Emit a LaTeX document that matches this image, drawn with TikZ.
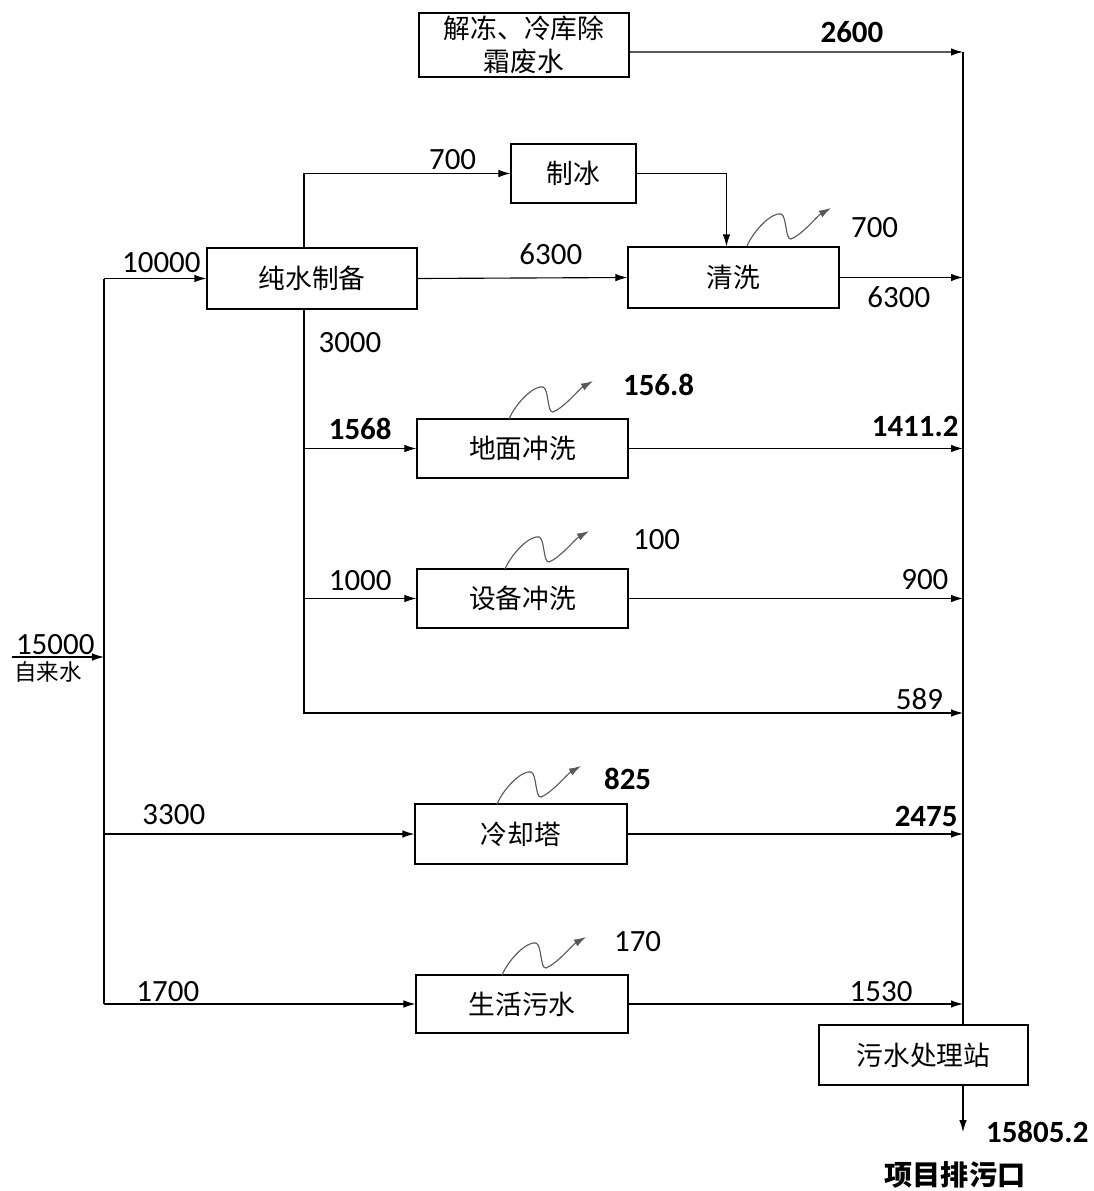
\documentclass[tikz,border=0pt]{standalone}
\usepackage{fontspec}
\setmainfont{Carlito}
\newfontfamily\cjk{Noto Sans CJK SC}
\usetikzlibrary{arrows.meta}

\begin{document}
\begin{tikzpicture}[
    x=0.025cm, y=-0.025cm,
    box/.style={draw, line width=0.8pt, font=\cjk\fontsize{19}{23.5}\selectfont,
                align=center, inner sep=0pt},
    flow/.style={-{Latex[length=3mm, width=1.9mm]}, line width=0.8pt},
    pipe/.style={line width=0.8pt},
    num/.style={font=\fontsize{22}{26}\selectfont, inner sep=2pt},
    bnum/.style={font=\bfseries\fontsize{22}{26}\selectfont, inner sep=2pt},
    loss/.style={-{Latex[length=3mm, width=1.9mm]}, line width=0.8pt, black!65},
    evap/.pic={\draw[loss] (0,0) .. controls (8,-18) and (26,-34) .. (34,-32)
                 .. controls (40,-30) and (38,-6) .. (44,-7)
                 .. controls (56,-12) and (70,-30) .. (84,-38);},
]
\useasboundingbox (0,0) rectangle (1093,1191);

% Units
\node[box, minimum width=5.25cm, minimum height=1.6cm] (thaw) at (524,45) {解冻、冷库除\\霜废水};
\node[box, minimum width=5.25cm, minimum height=1.525cm] (pure) at (312,278.5) {纯水制备};
\node[box, minimum width=3.125cm, minimum height=1.475cm] (ice) at (573.5,173.5) {制冰};
\node[box, minimum width=5.275cm, minimum height=1.525cm] (wash) at (733.5,277.5) {清洗};
\node[box, minimum width=5.275cm, minimum height=1.475cm] (floor) at (522.5,448.5) {地面冲洗};
\node[box, minimum width=5.275cm, minimum height=1.475cm] (equip) at (522.5,598.5) {设备冲洗};
\node[box, minimum width=5.3cm, minimum height=1.5cm] (cool) at (521,834) {冷却塔};
\node[box, minimum width=5.3cm, minimum height=1.45cm] (life) at (522,1004) {生活污水};
\node[box, minimum width=5.225cm, minimum height=1.5cm] (plant) at (923.5,1055) {污水处理站};

% Junctions
\coordinate (src) at (12,657);
\coordinate (ltop) at (104,278.5);
\coordinate (lbot) at (104,1004);
\coordinate (ptop) at (304,248);
\coordinate (pbot) at (304,309);
\coordinate (ctop) at (963,52);
\coordinate (c589) at (963,713);
\coordinate (drain) at (963,1132);

% Tap water in
\draw[flow] (src) -- node[num, above, inner sep=1pt, pos=0.47] {15000}
    node[below, inner sep=3pt, pos=0.39, font=\cjk\fontsize{16}{19}\selectfont] {自来水} (src -| ltop);
\draw[pipe] (lbot) -- (ltop);
\draw[flow] (ltop) -- node[num, above=2pt, pos=0.56] {10000} (pure.west);
\draw[flow] (ltop |- cool.west) -- node[num, above=4pt, pos=0.225] {3300} (cool.west);
\draw[flow] (lbot) -- node[num, above, inner sep=1pt, pos=0.205] {1700} (life.west);

% Pure water
\draw[flow] (ptop) |- node[num, above, pos=0.86] {700} (ice.west);
\draw[flow] (ice.east) -| ([xshift=-5pt]wash.north);
\draw[flow] (pure.east) -- node[num, above=7pt, pos=0.635] {6300} (wash.west);
\draw[flow] (pbot) |- node[num, right=8pt, pos=0.042] {3000}
    node[num, above, pos=0.967] {589} (c589);
\draw[flow] (pbot |- floor.west) -- node[bnum, above=4pt] {1568} (floor.west);
\draw[flow] (pbot |- equip.west) -- node[num, above=3pt] {1000} (equip.west);

% Losses
\pic at (747,246) {evap};
\pic at (509,419) {evap};
\pic at (505,569) {evap};
\pic at (497,804) {evap};
\pic at (502,975) {evap};
\node[num, anchor=west] (lwash) at (848,228) {700};
\node[bnum, anchor=west] (lfloor) at (620,385) {156.8};
\node[num, anchor=west] (lequip) at (630,540) {100};
\node[bnum, anchor=west] (lcool) at (601,779) {825};
\node[num, anchor=west] (llife) at (611,942) {170};

% To collector
\draw[flow] ([yshift=-5pt]thaw.east) -- node[bnum, above=4pt, pos=0.667] {2600} (ctop);
\draw[flow] (wash.east) -- node[num, below=4pt, pos=0.48] {6300} (wash.east -| ctop);
\draw[flow] (floor.east) -- node[bnum, above=6pt, pos=0.857] {1411.2} (floor.east -| ctop);
\draw[flow] (equip.east) -- node[num, above=4pt, pos=0.886] {900} (equip.east -| ctop);
\draw[flow] (cool.east) -- node[bnum, above=3pt, pos=0.89] {2475} (cool.east -| ctop);
\draw[flow] (life.east) -- node[num, above, inner sep=1pt, pos=0.755] {1530} (life.east -| ctop);
\draw[pipe] (ctop) -- (ctop |- plant.north);
\draw[flow] (ctop |- plant.south) -- node[bnum, right=14pt, pos=1] {15805.2} (drain);
\node[font=\cjk\bfseries\fontsize{20}{24}\selectfont] (outlet) at (955,1175) {项目排污口};

\end{tikzpicture}
\end{document}
